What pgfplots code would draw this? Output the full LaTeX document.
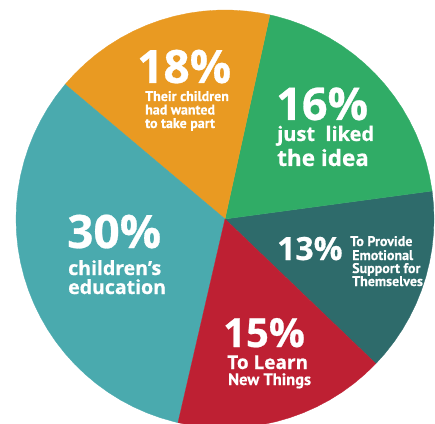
\documentclass[border=0pt]{standalone}
\usepackage{pgfplots}
\pgfplotsset{compat=1.18}
\usepackage{fontspec}
\setmainfont{Open Sans}
\newfontfamily\heavy{Open Sans}[BoldFeatures={FakeBold=0.6}]
\newfontfamily\narrow{PT Sans}[BoldFeatures={FakeBold=0.4}]

\definecolor{cOrange}{RGB}{233,154,34}
\definecolor{cGreen}{RGB}{48,172,102}
\definecolor{cDark}{RGB}{46,107,107}
\definecolor{cRed}{RGB}{190,32,51}
\definecolor{cTeal}{RGB}{74,170,174}

\newcommand\wide[2]{\fontsize{#1}{#1}\heavy\bfseries #2}
\newcommand\slim[2]{\fontsize{#1}{#1}\narrow\bfseries #2}

\begin{document}
\begin{tikzpicture}[x=1pt,y=1pt]
\begin{axis}[
  x=209pt, y=209pt,
  xmin=-1.1, xmax=1.1, ymin=-1.1, ymax=1.1,
  hide axis, clip=false,
  every axis plot/.append style={data cs=polar, line width=0.3pt},
]
% 13% -- to provide emotional support for themselves
\addplot[fill=cDark, draw=cDark] coordinates {
  (0,0) (-43.8,1) (-40,1) (-36,1) (-32,1) (-28,1) (-24,1) (-20,1) (-16,1)
  (-12,1) (-8,1) (-4,1) (0,1) (4,1) (7.7,1) (0,0)};
% 16% -- just liked the idea
\addplot[fill=cGreen, draw=cGreen] coordinates {
  (0,0) (7.7,1) (12,1) (16,1) (20,1) (24,1) (28,1) (32,1) (36,1) (40,1)
  (44,1) (48,1) (52,1) (56,1) (60,1) (64,1) (68,1) (72,1) (76,1) (77.6,1) (0,0)};
% 18% -- their children had wanted to take part
\addplot[fill=cOrange, draw=cOrange] coordinates {
  (0,0) (77.6,1) (80,1) (84,1) (88,1) (92,1) (96,1) (100,1) (104,1) (108,1)
  (112,1) (116,1) (120,1) (124,1) (128,1) (132,1) (136,1) (139.9,1) (0,0)};
% 30% -- children's education
\addplot[fill=cTeal, draw=cTeal] coordinates {
  (0,0) (139.9,1) (144,1) (148,1) (152,1) (156,1) (160,1) (164,1) (168,1)
  (172,1) (176,1) (180,1) (184,1) (188,1) (192,1) (196,1) (200,1) (204,1)
  (208,1) (212,1) (216,1) (220,1) (224,1) (228,1) (232,1) (236,1) (240,1)
  (244,1) (248,1) (252,1) (256,1) (257,1) (0,0)};
% 15% -- to learn new things
\addplot[fill=cRed, draw=cRed] coordinates {
  (0,0) (257,1) (260,1) (264,1) (268,1) (272,1) (276,1) (280,1) (284,1)
  (288,1) (292,1) (296,1) (300,1) (304,1) (308,1) (312,1) (316.2,1) (0,0)};
\coordinate (C) at (axis cs:0,0);
\end{axis}

\pgfresetboundingbox
% picture frame: pie centre sits at (225,204) of a 435 x 423 frame
\begin{scope}[shift={(C)}, xshift=-225pt, yshift=-204pt,
  every node/.style={text=white, inner sep=0pt, anchor=base west}]
\useasboundingbox (0,0) rectangle (435,423);
% 18%
\node at (137,340) {\wide{46}{18\%}};
\node at (145,322) {\slim{14}{Their children}};
\node at (145,308.5) {\slim{14}{had wanted}};
\node at (145,295) {\slim{14}{to take part}};
% 16%
\node at (276,303) {\wide{45}{16\%}};
\node at (277,282) {\wide{20}{just\ \ liked}};
\node at (277,257) {\wide{22.5}{the idea}};
% 13%
\node at (277,163) {\wide{32}{13\%}};
\node at (350,177) {\slim{14}{To Provide}};
\node at (352,163) {\slim{14}{Emotional}};
\node at (352,150) {\slim{14}{Support for}};
\node at (352,137) {\slim{14}{Themselves}};
% 30%
\node at (67,175) {\wide{46}{30\%}};
\node at (68,148) {\wide{19.5}{children’s}};
\node at (68,129) {\wide{19.5}{education}};
% 15%
\node at (223,76) {\wide{40}{15\%}};
\node at (227,54) {\wide{19}{To Learn}};
\node at (228,38) {\slim{16.5}{New Things}};
\end{scope}
\end{tikzpicture}
\end{document}
